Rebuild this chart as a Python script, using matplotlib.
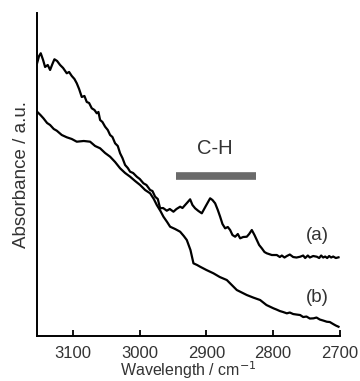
import numpy as np
import matplotlib
matplotlib.use("Agg")
import matplotlib.pyplot as plt

plt.rcParams['font.family'] = ['Liberation Sans', 'DejaVu Sans']

# spectrum (a): wavenumber / absorbance (a.u.)
wn_a = [3154, 3151, 3148.5, 3145, 3142, 3138, 3134.5, 3131, 3128, 3124, 3119.5, 3115,
        3109.5, 3106, 3102, 3098, 3094.5, 3091, 3087, 3083, 3079.5, 3076, 3072, 3068,
        3064.5, 3062, 3059.5, 3056, 3052, 3048, 3044.5, 3041, 3037, 3033, 3029.5, 3026,
        3022, 3018, 3014.5, 3010, 3004.5, 3000, 2994.5, 2990, 2984.5, 2981, 2977, 2973,
        2969.5, 2965, 2959.5, 2955, 2949.5, 2945, 2939.5, 2936, 2932, 2928, 2924.5, 2921,
        2917, 2912, 2907, 2901, 2894.5, 2891, 2887, 2883, 2879.5, 2876, 2872, 2868,
        2864.5, 2861, 2857, 2853, 2849.5, 2845, 2839.5, 2836, 2832, 2828, 2824.5, 2821,
        2817, 2813, 2809.5, 2802, 2794.5, 2790, 2787, 2783, 2779.5, 2775, 2770, 2765,
        2759.5, 2755, 2752, 2748, 2745, 2740, 2734.5, 2731, 2728, 2725, 2722, 2719,
        2716, 2713, 2710, 2706, 2702]
ab_a = [272.7, 280, 282.7, 276, 269, 271, 266, 272, 276.7, 275, 271, 268,
        262.7, 264, 260, 257, 252.7, 247, 239, 240, 234, 233, 227.7, 226,
        222.7, 224, 216, 214, 209.3, 206, 201, 199, 192.7, 190, 182.7, 178,
        171, 168, 164.3, 163, 159.3, 157, 152.7, 151, 146, 145, 139.3, 137,
        127.7, 128, 125.3, 127, 124.3, 127, 129.3, 128, 131, 134, 136.7, 131,
        127.7, 125, 122.7, 130, 137.7, 136, 132.7, 126, 119.3, 112, 107.7, 109,
        106, 101, 99.3, 102, 97.7, 99, 99.3, 102, 106, 101, 96, 91,
        87.7, 84, 82.7, 81, 81, 79, 80.5, 78.5, 80, 81.5, 79, 78.5,
        79.3, 80.5, 78, 80.5, 78.5, 80, 79.3, 78, 80.5, 78.5, 79.5, 78,
        80, 78.5, 79.5, 78, 78.7]

# spectrum (b)
wn_b = [3154, 3149, 3144.5, 3139, 3134.5, 3129, 3124.5, 3117, 3109.5, 3102, 3094.5, 3084,
        3074.5, 3067, 3059.5, 3052, 3044.5, 3037, 3029.5, 3022, 3014.5, 3007, 2999.5, 2992,
        2984.5, 2979, 2974.5, 2969, 2964.5, 2959, 2954.5, 2947, 2939.5, 2934, 2929.5, 2924,
        2919.5, 2914, 2909.5, 2900, 2889.5, 2880, 2869.5, 2862, 2854.5, 2847, 2839.5, 2830,
        2819.5, 2810, 2799.5, 2795, 2790, 2785, 2779.5, 2775, 2770, 2765, 2759.5, 2755,
        2750, 2745, 2739.5, 2735, 2730, 2725, 2719.5, 2715, 2710, 2706, 2702]
ab_b = [224.3, 221, 217.7, 213, 211, 207, 205.3, 201, 198.7, 197, 194.3, 195,
        194.3, 190, 187.7, 183, 179.3, 174, 167.7, 163, 159.3, 155, 151, 146,
        142.7, 137, 131, 125, 119.3, 114, 109.3, 107, 104.3, 100, 96, 86,
        72.7, 71, 69.3, 66, 62.7, 59, 56, 51, 46, 43.5, 41, 38.5,
        36, 31, 27.7, 26.5, 25, 24, 22.7, 23.5, 22, 21.5, 21, 19, 19.5,
        17.5, 17.7, 18.5, 16.5, 15.5, 14.3, 14, 12, 10.5, 9.3]

band = [2945, 2825]  # C-H region marker
band_level = 160

fig = plt.figure(figsize=(3.6, 3.81), dpi=100)
ax = fig.add_axes([0.103, 0.118, 0.841, 0.848])

ax.plot(wn_a, ab_a, color='black', lw=1.6)
ax.plot(wn_b, ab_b, color='black', lw=1.6)
ax.plot(band, [band_level, band_level], color='#6a6a6a', lw=5.5, solid_capstyle='butt')

ax.text(2888, 187.7, 'C-H', fontsize=14.5, ha='center', va='center', color='#333333')
ax.text(2733.5, 101, '(a)', fontsize=13.5, ha='center', va='center', color='#333333')
ax.text(2733.5, 39, '(b)', fontsize=13.5, ha='center', va='center', color='#333333')

ax.set_xlim(3154, 2700)
ax.set_ylim(0, 323)
ax.set_xticks([3100, 3000, 2900, 2800, 2700])
ax.set_yticks([])
ax.tick_params(axis='x', direction='in', length=4, width=1.3, labelsize=12,
               labelcolor='#333333', pad=7)
for s in ['top', 'right']:
    ax.spines[s].set_visible(False)
for s in ['left', 'bottom']:
    ax.spines[s].set_linewidth(1.4)

ax.set_xlabel('Wavelength / cm$^{-1}$', fontsize=11.5, color='#333333', labelpad=-1)
ax.set_ylabel('Absorbance / a.u.', fontsize=13.5, color='#333333', labelpad=5)

fig.savefig('out.png', dpi=100)
